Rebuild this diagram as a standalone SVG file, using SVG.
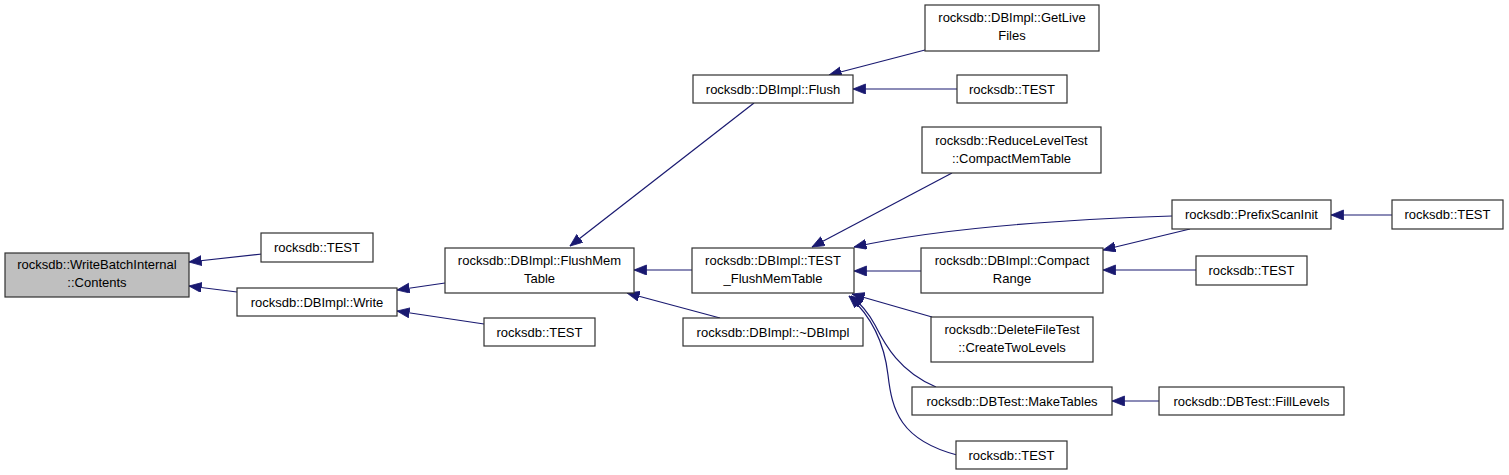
<svg xmlns="http://www.w3.org/2000/svg" width="1509" height="475" viewBox="0 0 1509 475">
<style>
.n rect{fill:#ffffff;stroke:#303030;stroke-width:1.2}
.n.g rect{fill:#bfbfbf}
.n text{font-family:"Liberation Sans",Arial,sans-serif;font-size:13px;fill:#000;text-anchor:middle}
.e path{fill:none;stroke:#191970;stroke-width:1.2}
</style>
<defs>
<marker id="ah" markerUnits="userSpaceOnUse" markerWidth="14" markerHeight="11" refX="12.5" refY="5" orient="auto">
<path d="M0,0 L12.5,5 L0,10 z" fill="#191970" stroke="#191970" stroke-width="0.8"/>
</marker>
</defs>
<rect width="1509" height="475" fill="#ffffff"/>
<g id="connectors" class="e">
<path d="M262,254 L189,262" marker-end="url(#ah)"/>
<path d="M237,292 L189,286" marker-end="url(#ah)"/>
<path d="M445,283 L397,290" marker-end="url(#ah)"/>
<path d="M484,324 L397,311" marker-end="url(#ah)"/>
<path d="M754,103 L570,246" marker-end="url(#ah)"/>
<path d="M692,270 L634,270" marker-end="url(#ah)"/>
<path d="M720,318 L627,293" marker-end="url(#ah)"/>
<path d="M925,50 L829,75" marker-end="url(#ah)"/>
<path d="M957,89 L853,89" marker-end="url(#ah)"/>
<path d="M952,173 L812,247" marker-end="url(#ah)"/>
<path d="M1172,216 C1080,219 950,226 854,247" marker-end="url(#ah)"/>
<path d="M921,271 L854,271" marker-end="url(#ah)"/>
<path d="M932,317 L852,294" marker-end="url(#ah)"/>
<path d="M936,387 C900,372 885,345 875,325 C868,312 860,303 851,296" marker-end="url(#ah)"/>
<path d="M957,455 C900,440 892,410 888,375 C884,340 870,315 849,296" marker-end="url(#ah)"/>
<path d="M1190,229 L1103,250" marker-end="url(#ah)"/>
<path d="M1196,270 L1103,270" marker-end="url(#ah)"/>
<path d="M1392,215 L1331,215" marker-end="url(#ah)"/>
<path d="M1159,401 L1112,401" marker-end="url(#ah)"/>
</g>
<g id="n1" class="n g"><rect x="5" y="253" width="184" height="44"/><text x="97" y="269">rocksdb::WriteBatchInternal</text><text x="97" y="287">::Contents</text></g>
<g id="n2" class="n"><rect x="261" y="233" width="112" height="29"/><text x="317" y="252">rocksdb::TEST</text></g>
<g id="n3" class="n"><rect x="237" y="288" width="160" height="28"/><text x="317" y="307">rocksdb::DBImpl::Write</text></g>
<g id="n4" class="n"><rect x="445" y="248" width="189" height="45"/><text x="539.5" y="265">rocksdb::DBImpl::FlushMem</text><text x="539.5" y="283">Table</text></g>
<g id="n5" class="n"><rect x="484" y="318" width="111" height="28"/><text x="539.5" y="337">rocksdb::TEST</text></g>
<g id="n6" class="n"><rect x="693" y="75" width="160" height="28"/><text x="773" y="94">rocksdb::DBImpl::Flush</text></g>
<g id="n7" class="n"><rect x="692" y="248" width="162" height="45"/><text x="773" y="265">rocksdb::DBImpl::TEST</text><text x="773" y="283">_FlushMemTable</text></g>
<g id="n8" class="n"><rect x="683" y="318" width="180" height="28"/><text x="773" y="337">rocksdb::DBImpl::~DBImpl</text></g>
<g id="n9" class="n"><rect x="925" y="5" width="174" height="46"/><text x="1012" y="22">rocksdb::DBImpl::GetLive</text><text x="1012" y="40">Files</text></g>
<g id="n10" class="n"><rect x="957" y="75" width="110" height="28"/><text x="1012" y="94">rocksdb::TEST</text></g>
<g id="n11" class="n"><rect x="922" y="127" width="179" height="46"/><text x="1011.5" y="145">rocksdb::ReduceLevelTest</text><text x="1011.5" y="163">::CompactMemTable</text></g>
<g id="n12" class="n"><rect x="921" y="248" width="182" height="45"/><text x="1012" y="265">rocksdb::DBImpl::Compact</text><text x="1012" y="283">Range</text></g>
<g id="n13" class="n"><rect x="931" y="317" width="162" height="45"/><text x="1012" y="334">rocksdb::DeleteFileTest</text><text x="1012" y="352">::CreateTwoLevels</text></g>
<g id="n14" class="n"><rect x="912" y="387" width="200" height="28"/><text x="1012" y="406">rocksdb::DBTest::MakeTables</text></g>
<g id="n15" class="n"><rect x="956" y="441" width="111" height="28"/><text x="1011.5" y="460">rocksdb::TEST</text></g>
<g id="n16" class="n"><rect x="1172" y="200" width="159" height="29"/><text x="1251.5" y="219">rocksdb::PrefixScanInit</text></g>
<g id="n17" class="n"><rect x="1196" y="256" width="111" height="29"/><text x="1251.5" y="275">rocksdb::TEST</text></g>
<g id="n18" class="n"><rect x="1159" y="387" width="185" height="28"/><text x="1251.5" y="406">rocksdb::DBTest::FillLevels</text></g>
<g id="n19" class="n"><rect x="1392" y="200" width="111" height="29"/><text x="1447.5" y="219">rocksdb::TEST</text></g>
</svg>
